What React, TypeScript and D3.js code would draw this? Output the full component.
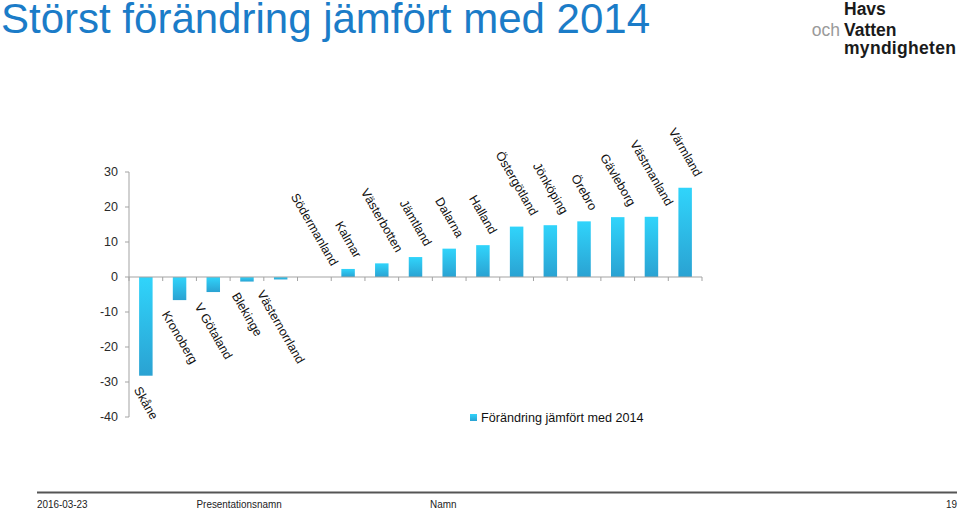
import React, { useEffect, useRef } from "react";
import * as d3 from "d3";

const categories = [
  "Skåne", "Kronoberg", "V Götaland", "Blekinge", "Västernorrland", "Södermanland",
  "Kalmar", "Västerbotten", "Jämtland", "Dalarna", "Halland", "Östergötland",
  "Jönköping", "Örebro", "Gävleborg", "Västmanland", "Värmland",
];
const values = [-28.2, -6.6, -4.3, -1.3, -0.7, 0, 2.3, 3.9, 5.7, 8.1, 9.1, 14.4, 14.8, 15.9, 17.1, 17.2, 25.5];
const yTicks = [30, 20, 10, 0, -10, -20, -30, -40];
const title = "Störst förändring jämfört med 2014";
const legendLabel = "Förändring jämfört med 2014";
const footer = ["2016-03-23", "Presentationsnamn", "Namn", "19"];

const W = 960, H = 510;
const FONT = "Helvetica, Arial, 'Liberation Sans', sans-serif";

export default function App() {
  const ref = useRef<SVGSVGElement>(null);

  useEffect(() => {
    const svg = d3.select(ref.current);
    svg.selectAll("*").remove();

    const defs = svg.append("defs");
    const grad = defs.append("linearGradient").attr("id", "barGrad")
      .attr("x1", 0).attr("y1", 0).attr("x2", 0).attr("y2", 1);
    grad.append("stop").attr("offset", "0%").attr("stop-color", "#30d4fb");
    grad.append("stop").attr("offset", "100%").attr("stop-color", "#2aa2d2");

    // Title
    svg.append("text").attr("x", 1).attr("y", 33)
      .attr("font-family", FONT).attr("font-size", 42).attr("fill", "#1b7cc8")
      .text(title);

    // Logo
    const logo = svg.append("g").attr("font-family", FONT).attr("font-size", 17.5);
    logo.append("text").attr("x", 844).attr("y", 15).attr("font-weight", "bold").attr("fill", "#1a1a1a").text("Havs");
    logo.append("text").attr("x", 840).attr("y", 36).attr("text-anchor", "end").attr("fill", "#9a9a9a").text("och");
    logo.append("text").attr("x", 844).attr("y", 36).attr("font-weight", "bold").attr("fill", "#1a1a1a").text("Vatten");
    logo.append("text").attr("x", 844).attr("y", 54).attr("font-weight", "bold").attr("fill", "#1a1a1a")
      .attr("letter-spacing", 0.3).text("myndigheten");

    // Scales
    const x0 = 129, x1 = 702;
    const xStep = d3.scaleBand<string>().domain(categories).range([x0, x1]).padding(0);
    const x = d3.scaleBand<string>().domain(categories).range([x0, x1]).paddingInner(0.6).paddingOuter(0.3);
    const y = d3.scaleLinear().domain([-40, 30]).range([417, 172]);

    const axisColor = "#a3a3a3";

    // Y axis
    svg.append("line").attr("x1", x0).attr("x2", x0).attr("y1", y(30)).attr("y2", y(-40))
      .attr("stroke", axisColor).attr("stroke-width", 1);
    const yt = svg.append("g");
    yTicks.forEach((t) => {
      yt.append("line").attr("x1", x0 - 4).attr("x2", x0).attr("y1", y(t)).attr("y2", y(t))
        .attr("stroke", axisColor);
      yt.append("text").attr("x", x0 - 11).attr("y", y(t)).attr("dy", "0.35em")
        .attr("text-anchor", "end").attr("font-family", FONT).attr("font-size", 12.5)
        .attr("fill", "#2a2a2a").text(String(t));
    });

    // Bars
    svg.append("g").selectAll("rect").data(values).join("rect")
      .attr("x", (_, i) => x(categories[i])!)
      .attr("width", x.bandwidth())
      .attr("y", (v) => y(Math.max(0, v)))
      .attr("height", (v) => Math.abs(y(v) - y(0)))
      .attr("fill", "url(#barGrad)");

    // X axis at zero
    svg.append("line").attr("x1", x0).attr("x2", x1).attr("y1", y(0)).attr("y2", y(0))
      .attr("stroke", axisColor);
    const tickXs = categories.map((c) => xStep(c)!).concat([x1]);
    svg.append("g").selectAll("line").data(tickXs).join("line")
      .attr("x1", (d) => d).attr("x2", (d) => d)
      .attr("y1", y(0)).attr("y2", y(0) + 4).attr("stroke", axisColor);

    // Rotated labels
    const fs = 12.5;
    const ang = 60;
    const sin = Math.sin((ang * Math.PI) / 180), cos = Math.cos((ang * Math.PI) / 180);
    const gap = 9;
    const lg = svg.append("g");
    categories.forEach((c, i) => {
      const v = values[i];
      const cx = x(c)! + x.bandwidth() / 2;
      const t = lg.append("text").attr("font-family", FONT).attr("font-size", fs)
        .attr("fill", "#111").attr("text-anchor", "middle")
        .attr("dominant-baseline", "central").text(c);
      const L = (t.node() as SVGTextElement).getComputedTextLength();
      const boxH = L * sin + fs * cos;
      const cy = v >= 0 ? y(v) - gap - boxH / 2 : y(v) + gap + boxH / 2;
      t.attr("transform", `translate(${cx},${cy}) rotate(${ang})`);
    });

    // Legend
    svg.append("rect").attr("x", 470).attr("y", 414).attr("width", 7).attr("height", 7)
      .attr("fill", "url(#barGrad)");
    svg.append("text").attr("x", 481).attr("y", 422).attr("font-family", FONT)
      .attr("font-size", 12.6).attr("fill", "#111").text(legendLabel);

    // Footer
    svg.append("line").attr("x1", 37).attr("x2", 957).attr("y1", 492.5).attr("y2", 492.5)
      .attr("stroke", "#555").attr("stroke-width", 2);
    const fxs = [37, 196.5, 430, 957];
    footer.forEach((s, i) => {
      svg.append("text")
        .attr("transform", `translate(${fxs[i]},508) scale(0.9,1)`)
        .attr("text-anchor", i === 3 ? "end" : "start")
        .attr("font-family", FONT).attr("font-size", 11).attr("fill", "#222").text(s);
    });
  }, []);

  return (
    <svg ref={ref} width={W} height={H} style={{ position: "absolute", left: 0, top: 0, background: "#fff" }} />
  );
}
